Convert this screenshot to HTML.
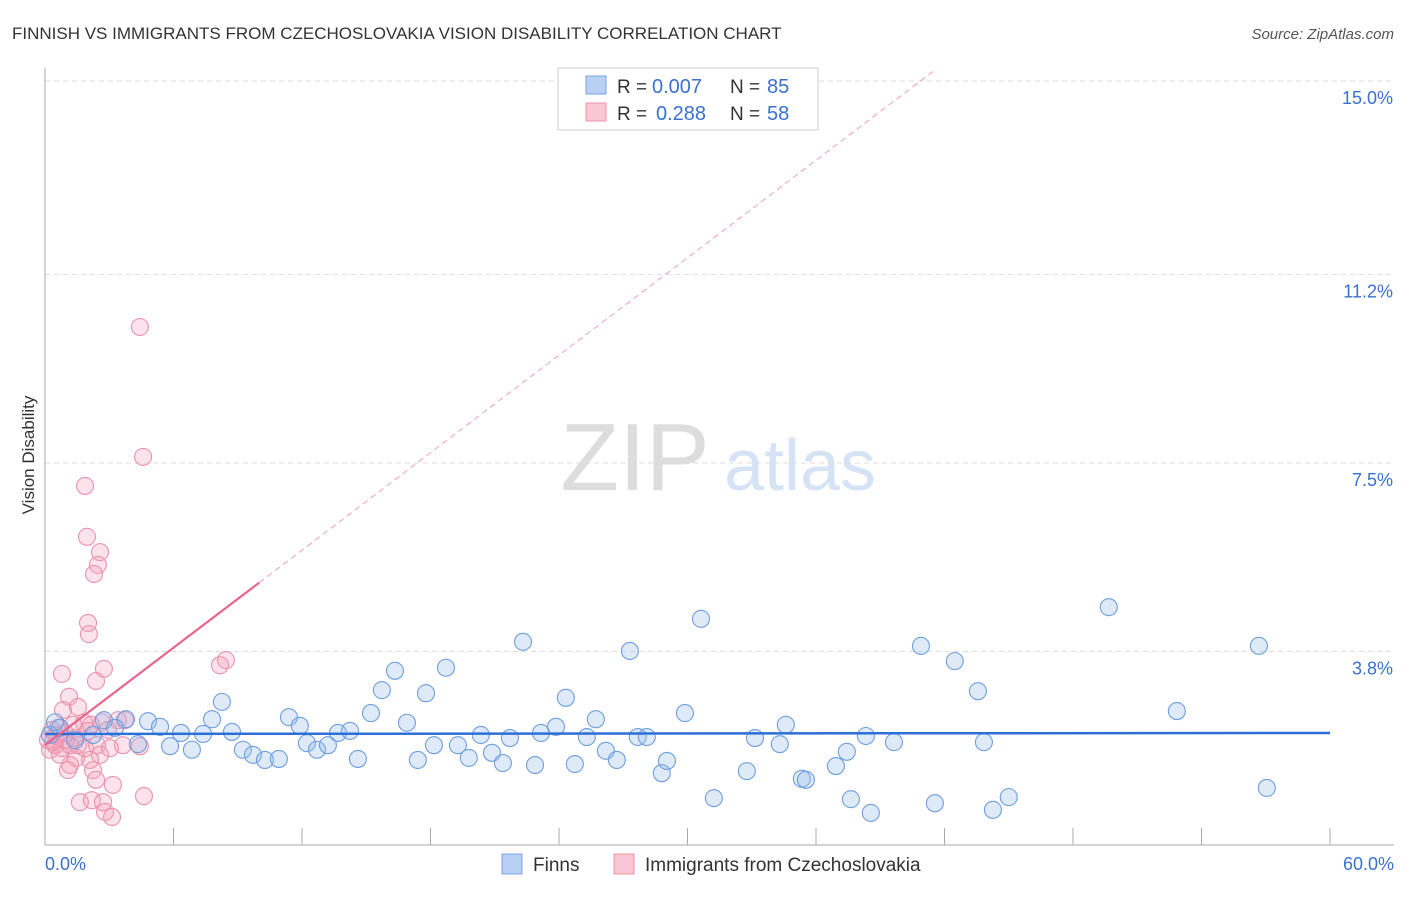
<!DOCTYPE html>
<html><head><meta charset="utf-8"><style>
body{margin:0;background:#fff;font-family:"Liberation Sans",sans-serif;}
svg text{font-family:"Liberation Sans",sans-serif;}
</style></head><body>
<svg id="chart" width="1406" height="892">
<text x="12" y="39" font-size="17" fill="#333">FINNISH VS IMMIGRANTS FROM CZECHOSLOVAKIA VISION DISABILITY CORRELATION CHART</text>
<text x="1394" y="39" font-size="15" fill="#555" text-anchor="end" font-style="italic">Source: ZipAtlas.com</text>
<text x="34" y="455" font-size="17" fill="#333" transform="rotate(-90 34 455)" text-anchor="middle">Vision Disability</text>
<g>
<text x="635" y="490" font-size="96" fill="#ddd" font-family="Liberation Serif" text-anchor="middle">ZIP</text>
<text x="800" y="490" font-size="72" fill="#d5e3f5" text-anchor="middle">atlas</text>
</g>
<g id="grid"></g><g id="axes"></g><g id="marks"></g>
<g>
<rect x="558" y="68" width="260" height="62" fill="#fff" stroke="#ccc"/>
<rect x="586" y="76" width="20" height="18" fill="#b8d0f2" stroke="#7aa3dd"/>
<text x="617" y="93" font-size="19" fill="#333">R =</text>
<text x="652" y="93" font-size="20" fill="#3a70d0">0.007</text>
<text x="730" y="93" font-size="19" fill="#333">N =</text>
<text x="767" y="93" font-size="20" fill="#3a70d0">85</text>
<rect x="586" y="103" width="20" height="18" fill="#f8c6d4" stroke="#eb92ad"/>
<text x="617" y="120" font-size="19" fill="#333">R =</text>
<text x="656" y="120" font-size="20" fill="#3a70d0">0.288</text>
<text x="730" y="120" font-size="19" fill="#333">N =</text>
<text x="767" y="120" font-size="20" fill="#3a70d0">58</text>
</g>
<g>
<rect x="502" y="854" width="20" height="20" fill="#b8d0f2" stroke="#7aa3dd"/>
<text x="533" y="871" font-size="19" fill="#333">Finns</text>
<rect x="614" y="854" width="20" height="20" fill="#f8c6d4" stroke="#eb92ad"/>
<text x="645" y="871" font-size="19" fill="#333">Immigrants from Czechoslovakia</text>
</g>
</svg>
<script>
const yTicks=[3.8,7.5,11.2,15.0];
const xTickLabels=["0.0%","60.0%"];
const finnsX=[2.75,3.78,4.81,5.37,5.84,6.35,6.86,7.38,7.80,8.26,8.73,9.24,9.71,10.27,10.92,11.39,11.90,12.23,12.70,13.21,13.68,14.24,14.61,15.22,15.73,16.34,16.90,17.41,17.79,18.16,18.72,19.28,19.79,20.35,20.87,21.38,21.71,22.32,22.88,23.16,23.86,24.32,24.74,25.30,25.72,26.19,26.70,27.31,27.68,28.10,28.80,29.04,29.88,30.63,31.23,32.77,33.15,34.31,34.59,35.34,35.53,36.93,37.44,37.63,38.33,38.56,39.64,40.90,41.55,42.48,43.56,43.84,44.26,45.0,49.67,52.85,56.68,57.05,2.24,3.27,0.70,0.23,4.34,0.47,1.40];
const finnsY=[2.45,2.47,2.43,2.32,1.94,2.20,1.87,2.18,2.47,2.81,2.22,1.87,1.77,1.67,1.69,2.51,2.34,2.00,1.87,1.96,2.20,2.24,1.69,2.59,3.04,3.42,2.40,1.67,2.98,1.96,3.48,1.96,1.71,2.16,1.81,1.61,2.10,3.99,1.57,2.20,2.32,2.89,1.59,2.12,2.47,1.85,1.67,3.81,2.12,2.12,1.41,1.65,2.59,4.44,0.92,1.45,2.10,1.98,2.36,1.30,1.28,1.55,1.83,0.90,2.14,0.63,2.02,3.91,0.82,3.61,3.02,2.02,0.69,0.94,4.67,2.63,3.91,1.12,2.16,2.30,2.30,2.16,1.98,2.41,2.06];
const czX=[4.43,4.58,1.87,1.96,2.57,2.47,2.29,2.01,2.05,2.75,0.79,2.38,1.12,1.54,0.84,8.17,8.45,3.41,1.82,1.31,0.61,0.33,0.98,2.43,3.64,4.43,2.57,2.10,1.45,1.17,1.07,2.24,2.38,3.17,1.63,2.19,2.71,4.62,2.80,3.13,0.47,0.79,0.23,0.70,1.17,1.54,1.87,0.51,0.93,1.40,2.01,2.15,2.66,3.73,2.94,0.14,0.37,3.03];
const czY=[10.17,7.62,7.05,6.05,5.75,5.50,5.32,4.36,4.14,3.46,3.36,3.22,2.91,2.71,2.65,3.53,3.63,2.45,2.40,2.36,2.30,2.26,2.06,1.96,1.96,1.94,1.77,1.67,1.71,1.57,1.47,1.47,1.28,1.18,0.84,0.88,0.84,0.96,0.65,0.55,1.96,1.90,1.87,1.77,1.96,1.96,1.90,2.16,2.20,2.10,2.24,2.36,2.41,2.45,2.26,2.06,2.02,1.90];
const finnsTrend=[2.18,2.20];
const czTrend=[1.96,0.319];
const NS="http://www.w3.org/2000/svg";
const xs=v=>45+v*1285/60, ys=v=>845-v*191/3.75;
function mk(parent,tag,attrs){const e=document.createElementNS(NS,tag);for(const k in attrs)e.setAttribute(k,attrs[k]);document.getElementById(parent).appendChild(e);return e;}
yTicks.forEach(t=>{
 const l=mk('grid','line',{x1:45,x2:1394,y1:ys(t),y2:ys(t),stroke:'#ddd','stroke-dasharray':'5,4'});
 
 
 const tx=mk('grid','text',{x:1393,y:ys(t)+23,'font-size':18,fill:'#3a70d0','text-anchor':'end'});tx.textContent=t.toFixed(1)+'%';
 
 
});
const ax=mk('axes','line',{x1:45,x2:45,y1:68,y2:845,stroke:'#aaa'});


const bx=mk('axes','line',{x1:45,x2:1394,y1:845,y2:845,stroke:'#aaa'});


for(let i=0;i<=10;i++){const t=mk('axes','line',{x1:xs(i*6),x2:xs(i*6),y1:828,y2:845,stroke:'#aaa'});
 
 }
[[0,'start',45],[60,'end',1394]].forEach((d,i)=>{const t=mk('axes','text',{x:d[2],y:870,'font-size':18,fill:'#3a70d0','text-anchor':d[1]});t.textContent=xTickLabels[i];
 
 });
czX.forEach((x,i)=>{const c=mk('marks','circle',{cx:xs(x),cy:ys(czY[i]),r:8.5,fill:'rgba(245,160,185,0.3)',stroke:'#eb92ad','stroke-width':1.1});
 
 });
finnsX.forEach((x,i)=>{const c=mk('marks','circle',{cx:xs(x),cy:ys(finnsY[i]),r:8.5,fill:'rgba(150,185,235,0.3)',stroke:'#6d9ee0','stroke-width':1.1});
 
 });
const ft=mk('marks','line',{x1:xs(0),x2:xs(60),y1:ys(finnsTrend[0]),y2:ys(finnsTrend[1]),stroke:'#2c6fd6','stroke-width':2.5});


const cs=mk('marks','line',{x1:xs(0),x2:xs(10),y1:ys(czTrend[0]),y2:ys(czTrend[0]+czTrend[1]*10),stroke:'#e8648c','stroke-width':2.2});


const cd=mk('marks','line',{x1:xs(10),x2:xs(41.6),y1:ys(czTrend[0]+czTrend[1]*10),y2:ys(czTrend[0]+czTrend[1]*41.6),stroke:'#eda0b6','stroke-width':1,'stroke-dasharray':'6,4'});


</script>
</body></html>
